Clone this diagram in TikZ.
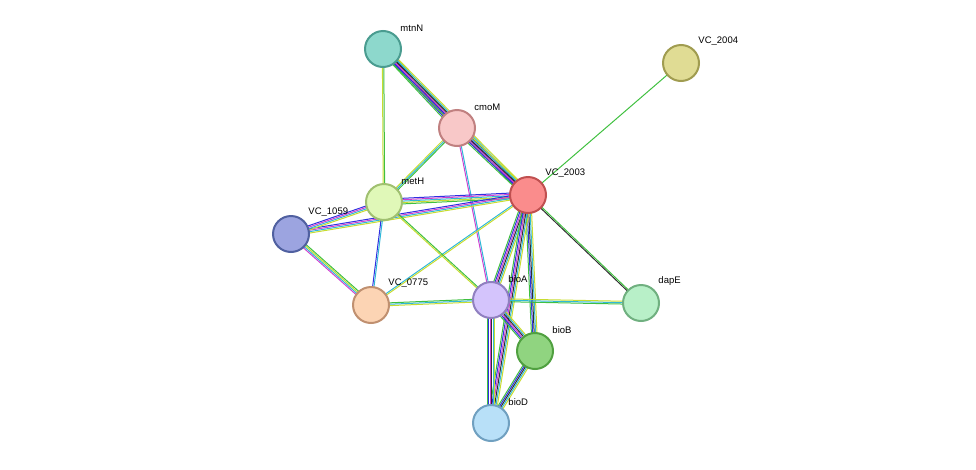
\documentclass[tikz,border=0pt]{standalone}
\usepackage{fontspec}
\setmainfont{Liberation Sans}
\usetikzlibrary{calc}
\definecolor{tm}{HTML}{C8DC30}
\definecolor{db}{HTML}{30B8D8}
\definecolor{ex}{HTML}{D040D0}
\definecolor{co}{HTML}{303030}
\definecolor{gn}{HTML}{40C040}
\definecolor{nb}{HTML}{3030E0}
\tikzset{
  prot/.style={circle, minimum size=36pt, inner sep=0pt, line width=2pt},
  lbl/.style={font=\fontsize{9.5}{11}\selectfont, inner sep=1pt},
}
% a bundle of parallel coloured lines between two points
\newcommand\lnk[3]{%
  \foreach \c [count=\n] in {#3} {\xdef\nn{\n}}%
  \foreach \c [count=\i] in {#3} {%
    \pgfmathsetmacro\off{(\i-(\nn+1)/2)*1.4}%
    \draw[\c, line width=1pt] ($(#1)!\off pt!90:(#2)$) -- ($(#2)!\off pt!-90:(#1)$);
  }}
\begin{document}
\begin{tikzpicture}[x=1pt, y=-1pt]
\useasboundingbox (0,0) rectangle (976,469);
\coordinate (mtnN) at (383,49);
\coordinate (v2004) at (681,63);
\coordinate (cmoM) at (457,128);
\coordinate (v2003) at (528,195);
\coordinate (metH) at (384,202);
\coordinate (v1059) at (291,234);
\coordinate (v0775) at (371,305);
\coordinate (bioA) at (491,300);
\coordinate (dapE) at (641,303);
\coordinate (bioB) at (535,351);
\coordinate (bioD) at (491,423);

\lnk{mtnN}{cmoM}{gn,nb,ex,co,db,tm}
\lnk{mtnN}{v2003}{gn,nb,ex,co,db,tm}
\lnk{mtnN}{metH}{tm,gn}
\lnk{cmoM}{v2003}{gn,nb,ex,co,db,tm}
\lnk{cmoM}{metH}{tm,db,gn}
\lnk{cmoM}{bioA}{ex,db}
\lnk{v2004}{v2003}{gn}
\lnk{v2003}{metH}{nb,ex,db,tm,gn}
\lnk{v2003}{v1059}{nb,ex,db,tm}
\lnk{v2003}{v0775}{db,tm}
\lnk{v2003}{bioA}{gn,nb,ex,co,db,tm}
\lnk{v2003}{bioB}{gn,nb,co,db,tm}
\lnk{v2003}{bioD}{gn,nb,ex,co,db,tm}
\lnk{v2003}{dapE}{co,gn}
\lnk{metH}{v1059}{nb,ex,db,tm}
\lnk{metH}{v0775}{nb,db}
\lnk{metH}{bioA}{tm,gn}
\lnk{v1059}{v0775}{ex,db,tm,gn}
\lnk{v0775}{bioA}{tm,db,gn}
\lnk{bioA}{dapE}{gn,db,tm}
\lnk{bioA}{bioB}{gn,nb,ex,co,db,tm}
\lnk{bioA}{bioD}{gn,nb,ex,co,db,tm}
\lnk{bioB}{bioD}{gn,nb,co,db,tm}

\node[prot, fill={rgb,255:red,141;green,216;blue,204}, draw={rgb,255:red,74;green,156;blue,144},
  label={[lbl, label distance=4pt]above right:mtnN}] (n-mtnN) at (mtnN) {};
\node[prot, fill={rgb,255:red,224;green,220;blue,148}, draw={rgb,255:red,160;green,156;blue,80},
  label={[lbl, label distance=4pt]above right:VC\_2004}] (n-v2004) at (v2004) {};
\node[prot, fill={rgb,255:red,248;green,200;blue,200}, draw={rgb,255:red,192;green,128;blue,128},
  label={[lbl, label distance=4pt]above right:cmoM}] (n-cmoM) at (cmoM) {};
\node[prot, fill={rgb,255:red,250;green,140;blue,140}, draw={rgb,255:red,192;green,80;blue,80},
  label={[lbl, label distance=4pt]above right:VC\_2003}] (n-v2003) at (v2003) {};
\node[prot, fill={rgb,255:red,224;green,248;blue,184}, draw={rgb,255:red,160;green,192;blue,112},
  label={[lbl, label distance=4pt]above right:metH}] (n-metH) at (metH) {};
\node[prot, fill={rgb,255:red,156;green,164;blue,224}, draw={rgb,255:red,80;green,96;blue,160},
  label={[lbl, label distance=4pt]above right:VC\_1059}] (n-v1059) at (v1059) {};
\node[prot, fill={rgb,255:red,252;green,212;blue,180}, draw={rgb,255:red,192;green,144;blue,112},
  label={[lbl, label distance=4pt]above right:VC\_0775}] (n-v0775) at (v0775) {};
\node[prot, fill={rgb,255:red,212;green,196;blue,252}, draw={rgb,255:red,144;green,128;blue,192},
  label={[lbl, label distance=4pt]above right:bioA}] (n-bioA) at (bioA) {};
\node[prot, fill={rgb,255:red,184;green,240;blue,200}, draw={rgb,255:red,112;green,176;blue,128},
  label={[lbl, label distance=4pt]above right:dapE}] (n-dapE) at (dapE) {};
\node[prot, fill={rgb,255:red,144;green,212;blue,128}, draw={rgb,255:red,80;green,160;blue,64},
  label={[lbl, label distance=4pt]above right:bioB}] (n-bioB) at (bioB) {};
\node[prot, fill={rgb,255:red,184;green,224;blue,248}, draw={rgb,255:red,112;green,160;blue,192},
  label={[lbl, label distance=4pt]above right:bioD}] (n-bioD) at (bioD) {};
\end{tikzpicture}
\end{document}
